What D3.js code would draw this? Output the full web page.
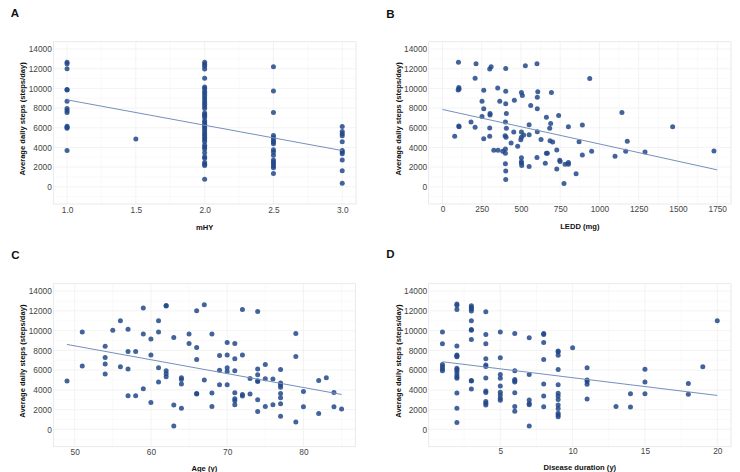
<!DOCTYPE html>
<html>
<head>
    <script src="https://d3js.org/d3.v7.min.js"></script>
    <style>
        body { margin: 0; background: #fff; }
        text { font-family: "Liberation Sans", Arial, sans-serif; }
    </style>
</head>
<body>
    <svg id="chart" width="740" height="472"></svg>

    <script>
        // ---- data ----
        var stepTicks = [0, 2000, 4000, 6000, 8000, 10000, 12000, 14000];

        var mhyTicks = [1.0, 1.5, 2.0, 2.5, 3.0];
        var mhyPts = [
            [1, 12650], [1, 12500], [1, 12000], [1, 9900], [1, 9850], [1, 8700], [1, 7950], [1, 7750], [1, 7550],
            [1, 6150], [1, 6050], [1, 5950], [1, 3700],
            [1.5, 4850],
            [2, 12650], [2, 12450], [2, 12250], [2, 11975], [2, 11030], [2, 10150], [2, 9985], [2, 9715], [2, 9510],
            [2, 9275], [2, 9040], [2, 8835], [2, 8600], [2, 8400], [2, 8160], [2, 7960], [2, 7490], [2, 7350],
            [2, 7215], [2, 7050], [2, 6710], [2, 6540], [2, 6340], [2, 6205], [2, 6000], [2, 5800], [2, 5565],
            [2, 5360], [2, 5190], [2, 4990], [2, 4820], [2, 4585], [2, 4215], [2, 4045], [2, 3845], [2, 3470],
            [2, 3065], [2, 2900], [2, 2460], [2, 2290], [2, 2155], [2, 770],
            [2.5, 12200], [2.5, 9750], [2.5, 7550], [2.5, 5225], [2.5, 4990], [2.5, 4760], [2.5, 4555], [2.5, 4380],
            [2.5, 3775], [2.5, 3545], [2.5, 3200], [2.5, 2735], [2.5, 2530], [2.5, 2330], [2.5, 2125], [2.5, 1925], [2.5, 1345],
            [3, 6130], [3, 5630], [3, 5400], [3, 5200], [3, 4585], [3, 3700], [3, 3545], [3, 3370], [3, 2735], [3, 1620], [3, 365]
        ];
        var mhyFit = [[1, 8840], [3, 3680]];

        var leddTicks = [0, 250, 500, 750, 1000, 1250, 1500, 1750];
        var leddPts = [
            [102, 12650], [214, 12500], [310, 12200], [301, 11980], [403, 12030], [528, 12300], [602, 12520],
            [208, 11030], [104, 10100], [106, 9950], [100, 9850], [263, 9820], [352, 10050], [403, 9700],
            [503, 9580], [509, 9270], [607, 9650], [694, 9580], [938, 11000], [252, 8700], [365, 8700],
            [458, 8800], [403, 8440], [263, 7930], [303, 7460], [303, 7300], [407, 7460], [562, 8270],
            [604, 9100], [604, 7930], [252, 7150], [662, 7080], [740, 7250], [1143, 7560], [182, 6580],
            [104, 6170], [106, 6100], [208, 6040], [301, 5970], [401, 6580], [407, 5940], [454, 5570],
            [552, 6310], [604, 5600], [503, 5570], [517, 5260], [552, 5300], [503, 5030], [499, 4790],
            [628, 4820], [683, 5940], [689, 6440], [685, 4690], [702, 4550], [802, 6110], [891, 6280],
            [870, 4580], [1177, 4620], [78, 5130], [263, 4890], [301, 5130], [399, 5200], [405, 5030],
            [437, 4450], [479, 4120], [327, 3710], [354, 3710], [384, 3610], [401, 3850], [401, 3420],
            [728, 3740], [503, 2960], [602, 2990], [503, 2540], [503, 2430], [505, 2160], [552, 2060],
            [655, 2400], [662, 3400], [668, 3400], [747, 2700], [749, 2560], [781, 2300], [802, 2470],
            [802, 2300], [891, 3240], [950, 3610], [1099, 3110], [1167, 3610], [1290, 3540], [1466, 6110],
            [1729, 3640], [851, 1320], [728, 1820], [401, 2340], [403, 1600], [403, 740], [774, 340]
        ];
        var leddFit = [[0, 7860], [1750, 1720]];

        var ageTicks = [50, 60, 70, 80];
        var agePts = [
            [49, 4890], [51, 9850], [51, 6410], [54, 8430], [54, 7290], [54, 6610], [54, 5600], [55, 10050],
            [56, 11000], [56, 6340], [57, 10150], [57, 7890], [57, 6110], [57, 3410], [58, 7890], [58, 3410],
            [59, 12280], [59, 9650], [59, 4120], [60, 9140], [60, 7520], [60, 2730], [61, 11000], [61, 9850],
            [61, 6240], [61, 4790], [62, 12550], [62, 12480], [62, 5940], [62, 5640], [62, 5330], [63, 9310],
            [63, 2460], [63, 340], [64, 5230], [64, 5060], [64, 4590], [64, 2130], [65, 9650], [65, 8700],
            [66, 12010], [66, 8300], [66, 7080], [66, 3640], [66, 3580], [67, 12620], [67, 4990], [68, 9650],
            [68, 3680], [68, 2330], [69, 7490], [69, 6000], [69, 4520], [70, 8790], [70, 7520], [70, 6240],
            [70, 5870], [70, 4520], [71, 8700], [71, 7150], [71, 5940], [71, 3710], [71, 3100], [71, 2900],
            [71, 2500], [72, 12140], [72, 7520], [72, 3540], [72, 3370], [73, 5160], [73, 3580], [74, 11940],
            [74, 6110], [74, 5530], [74, 4930], [74, 4860], [74, 3000], [74, 1820], [75, 6580], [75, 5130],
            [75, 2330], [76, 5100], [76, 2500], [77, 6070], [77, 4690], [77, 4490], [77, 4280], [77, 3640],
            [77, 3200], [77, 2600], [77, 1320], [79, 9720], [79, 7390], [79, 740], [80, 3850], [80, 2290],
            [82, 4960], [82, 1620], [83, 5230], [84, 3740], [84, 2290], [85, 2060]
        ];
        var ageFit = [[49, 8600], [85, 3540]];

        var durTicks = [5, 10, 15, 20];
        var durPts = [
            [1, 9860], [1, 8680], [1, 6580], [1, 6350], [1, 6110], [1, 5940],
            [2, 12690], [2, 12550], [2, 12150], [2, 8440], [2, 7530], [2, 7430], [2, 7360], [2, 6180], [2, 6040],
            [2, 5840], [2, 5570], [2, 5330], [2, 5170], [2, 3690], [2, 2130], [2, 710],
            [3, 12520], [3, 12350], [3, 12180], [3, 11980], [3, 11000], [3, 10120], [3, 10050], [3, 9110],
            [3, 4960], [3, 4890], [3, 4080],
            [4, 11910], [4, 9620], [4, 8680], [4, 7160], [4, 6520], [4, 6380], [4, 5200], [4, 3900], [4, 3740],
            [4, 2830], [4, 2660], [4, 2460],
            [5, 9860], [5, 7260], [5, 5570], [5, 5170], [5, 4390], [5, 3760], [5, 3490], [5, 3150], [5, 2960],
            [6, 9720], [6, 5940], [6, 5060], [6, 4930], [6, 4800], [6, 3720], [6, 2330], [6, 1830],
            [7, 9280], [7, 5570], [7, 2970], [7, 2630], [7, 2500], [7, 340],
            [8, 9720], [8, 9600], [8, 8800], [8, 7080], [8, 4600], [8, 3380], [8, 2300],
            [9, 7950], [9, 7830], [9, 7500], [9, 6070], [9, 4520], [9, 3670], [9, 3370], [9, 3040], [9, 2460],
            [9, 2120], [9, 1630], [9, 1450], [9, 1280],
            [10, 8270],
            [11, 6240], [11, 4990], [11, 4850], [11, 4560], [11, 3070],
            [13, 2330], [14, 3610], [14, 2270], [15, 6080], [15, 4800], [15, 3610],
            [18, 4660], [18, 3550], [19, 6350], [20, 11000]
        ];
        var durFit = [[1, 6850], [20, 3440]];

        // ---- layout ----
        var panels = [
            { label: "A", pts: mhyPts, fit: mhyFit, xDom: [0.9, 3.1], xTicks: mhyTicks, xFmt: d3.format(".1f"),
              xTitle: "mHY", x0: 53.3, x1: 356, y0: 41.7, y1: 204, lab: [15, 17], tickY: 213.5, titleY: 229.5 },
            { label: "B", pts: leddPts, fit: leddFit, xDom: [-87.5, 1837.5], xTicks: leddTicks, xFmt: d3.format("d"),
              xTitle: "LEDD (mg)", x0: 428.7, x1: 731, y0: 41.7, y1: 204, lab: [390.5, 17.5], tickY: 213, titleY: 229 },
            { label: "C", pts: agePts, fit: ageFit, xDom: [47.2, 86.8], xTicks: ageTicks, xFmt: d3.format("d"),
              xTitle: "Age (y)", x0: 53.3, x1: 355.3, y0: 283.7, y1: 446.7, lab: [15.5, 258.5], tickY: 455.5, titleY: 470.5 },
            { label: "D", pts: durPts, fit: durFit, xDom: [0.05, 20.95], xTicks: durTicks, xFmt: d3.format("d"),
              xTitle: "Disease duration (y)", x0: 428.7, x1: 731, y0: 283.7, y1: 446.7, lab: [390.5, 257.5], tickY: 455, titleY: 470 }
        ];

        var svg = d3.select("#chart");

        panels.forEach(function (p) {
            var x = d3.scaleLinear().domain(p.xDom).range([p.x0, p.x1]);
            var y = d3.scaleLinear().domain([-1750, 14750]).range([p.y1, p.y0]);
            var g = svg.append("g");

            // minor + major grid
            var xStep = p.xTicks[1] - p.xTicks[0];
            var xMinor = d3.range(p.xTicks[0] - xStep / 2, p.xDom[1], xStep).filter(v => v > p.xDom[0]);
            var xMajor = d3.range(p.xTicks[0] - xStep * 4, p.xDom[1], xStep).filter(v => v > p.xDom[0]);
            var yMinor = d3.range(-1000, 14750, 2000);
            g.selectAll(".gxm").data(xMinor).enter().append("line")
                .attr("x1", d => x(d)).attr("x2", d => x(d)).attr("y1", p.y0).attr("y2", p.y1)
                .attr("stroke", "#f7f7f7").attr("stroke-width", 0.6);
            g.selectAll(".gym").data(yMinor).enter().append("line")
                .attr("y1", d => y(d)).attr("y2", d => y(d)).attr("x1", p.x0).attr("x2", p.x1)
                .attr("stroke", "#f7f7f7").attr("stroke-width", 0.6);
            g.selectAll(".gx").data(xMajor).enter().append("line")
                .attr("x1", d => x(d)).attr("x2", d => x(d)).attr("y1", p.y0).attr("y2", p.y1)
                .attr("stroke", "#f0f0f0").attr("stroke-width", 0.8);
            g.selectAll(".gy").data(stepTicks).enter().append("line")
                .attr("y1", d => y(d)).attr("y2", d => y(d)).attr("x1", p.x0).attr("x2", p.x1)
                .attr("stroke", "#f0f0f0").attr("stroke-width", 0.8);

            // panel border
            g.append("rect").attr("x", p.x0).attr("y", p.y0)
                .attr("width", p.x1 - p.x0).attr("height", p.y1 - p.y0)
                .attr("fill", "none").attr("stroke", "#e4e4e4").attr("stroke-width", 0.8);

            // points
            g.selectAll("circle").data(p.pts).enter().append("circle")
                .attr("cx", d => x(d[0])).attr("cy", d => y(d[1])).attr("r", 2.5)
                .attr("fill", "#22488a").attr("opacity", 0.85);

            // fitted line
            g.append("path").datum(p.fit)
                .attr("d", d3.line().x(d => x(d[0])).y(d => y(d[1])))
                .attr("fill", "none").attr("stroke", "#7590bd").attr("stroke-width", 1);

            // axes (labels only)
            var yAx = g.append("g").attr("transform", `translate(${p.x0 - 1.5},0)`)
                .call(d3.axisLeft(y).tickValues(stepTicks).tickSize(0).tickPadding(0).tickFormat(d3.format("d")));
            yAx.select(".domain").remove();
            yAx.selectAll("text").attr("font-size", 8.3).attr("fill", "#444").attr("font-family", "Liberation Sans, Arial, sans-serif");

            var xAx = g.append("g").attr("transform", `translate(0,${p.tickY - 6.5})`)
                .call(d3.axisBottom(x).tickValues(p.xTicks).tickSize(0).tickPadding(0).tickFormat(p.xFmt));
            xAx.select(".domain").remove();
            xAx.selectAll("text").attr("font-size", 8.3).attr("fill", "#444").attr("font-family", "Liberation Sans, Arial, sans-serif");

            // titles
            g.append("text").attr("x", (p.x0 + p.x1) / 2).attr("y", p.titleY)
                .attr("text-anchor", "middle").attr("font-size", 7.6).attr("font-weight", "bold")
                .attr("fill", "#111").text(p.xTitle);
            g.append("text")
                .attr("transform", `translate(${p.x0 - 28},${(p.y0 + p.y1) / 2 - 4})rotate(-90)`)
                .attr("text-anchor", "middle").attr("font-size", 7.6).attr("font-weight", "bold")
                .attr("fill", "#111").text("Average daily steps (steps/day)");
            g.append("text").attr("x", p.lab[0]).attr("y", p.lab[1])
                .attr("text-anchor", "middle").attr("font-size", 11.5).attr("font-weight", "bold")
                .attr("fill", "#111").text(p.label);
        });
    </script>
</body>
</html>
